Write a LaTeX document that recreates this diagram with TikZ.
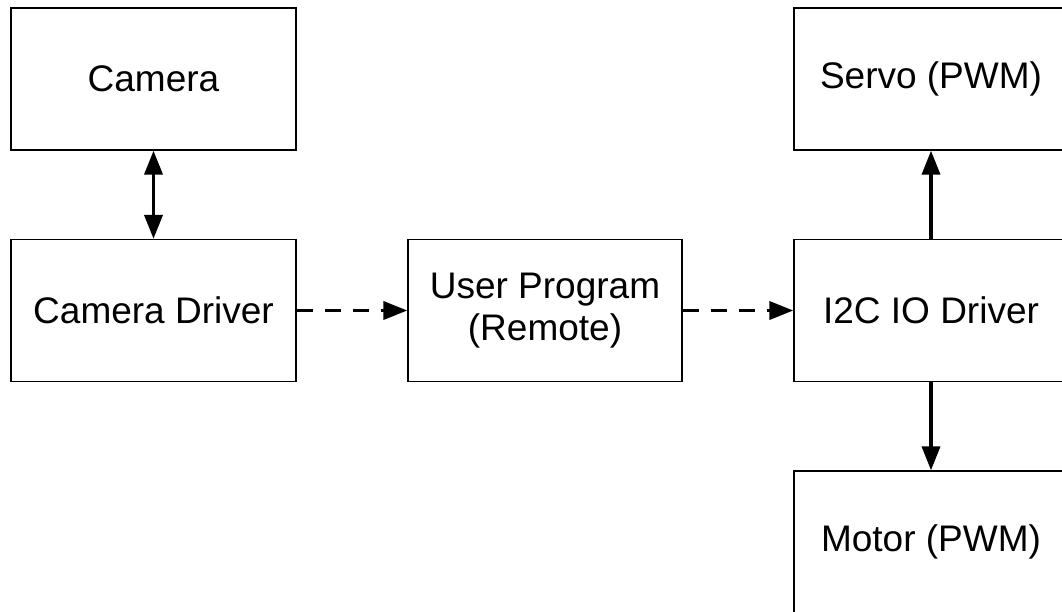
\documentclass[tikz,border=0pt]{standalone}
\usepackage{fontspec}
\setmainfont{Liberation Sans}
\usetikzlibrary{arrows.meta}
\begin{document}
\begin{tikzpicture}[x=1pt,y=-1pt,
  block/.style={draw=black, line width=1.3pt, fill=white, rectangle,
    minimum width=#1, minimum height=142pt, inner sep=0pt, align=center,
    font=\fontsize{37}{42}\selectfont},
  block/.default=274pt,
  link/.style={line width=3.6pt, -{Triangle[length=24pt,width=18pt]}},
  bilink/.style={line width=3.6pt, {Triangle[length=24pt,width=18pt]}-{Triangle[length=24pt,width=18pt]}},
  remote/.style={link, dash pattern=on 16pt off 12pt}]
  % page area and clipping to it
  \fill[white] (0,0) rectangle (1062,611);
  \useasboundingbox (0,0) rectangle (1062,611);
  \clip (0,0) rectangle (1062,611);

  % blocks
  \node[block=285pt] (cam) at (153.5,79) {Camera};
  \node[block=285pt] (camdrv) at (153.5,310.5) {Camera Driver};
  \node[block] (user) at (545,310.5) {User Program\\(Remote)};
  \node[block] (servo) at (931,79) {Servo (PWM)};
  \node[block] (i2c) at (931,310.5) {I2C IO Driver};
  \node[block] (motor) at (931,542) {Motor (PWM)};

  % connections
  \draw[bilink] (cam.south) -- (camdrv.north);
  \draw[remote] (camdrv.east) -- (user.west);
  \draw[remote] (user.east) -- (i2c.west);
  \draw[link] (i2c.north) -- (servo.south);
  \draw[link] (i2c.south) -- (motor.north);
\end{tikzpicture}
\end{document}
